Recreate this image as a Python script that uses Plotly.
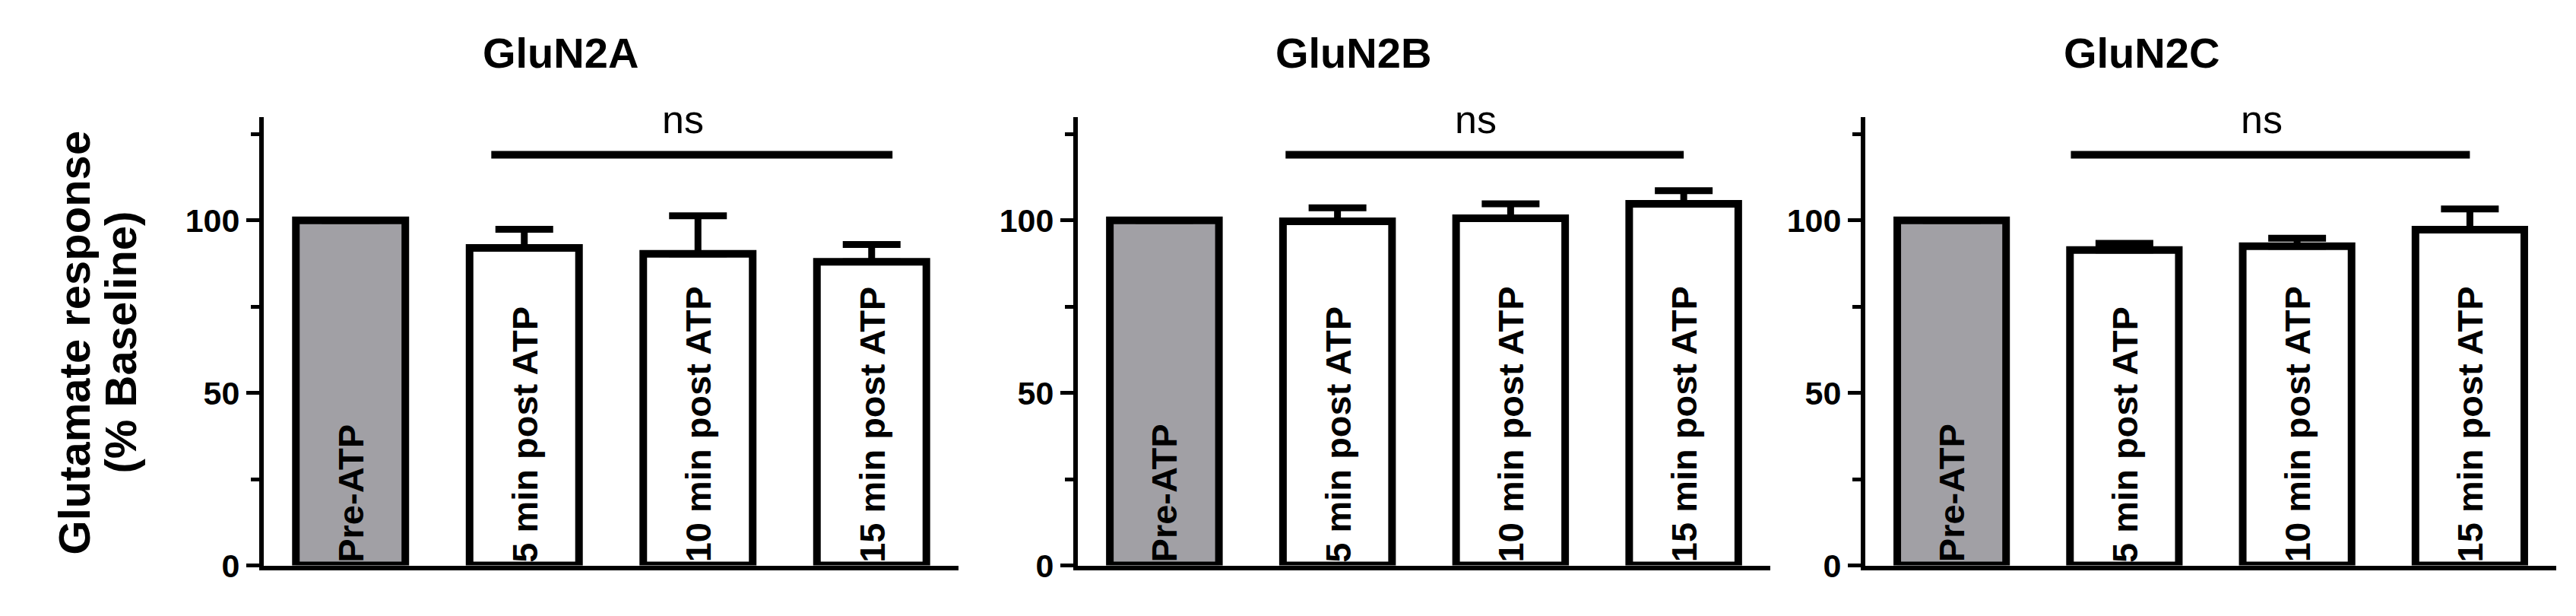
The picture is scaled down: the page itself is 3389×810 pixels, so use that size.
import plotly.graph_objects as go

# conditions on the x axis (also printed inside the bars)
conditions = ["Pre-ATP", "5 min post ATP", "10 min post ATP", "15 min post ATP"]
panel_titles = ["GluN2A", "GluN2B", "GluN2C"]

# % of baseline, mean and upper error
glun2a_mean = [100, 92.0, 90.3, 88.0]
glun2a_err = [0, 5.4, 11.0, 5.0]
glun2b_mean = [100, 99.7, 100.6, 104.8]
glun2b_err = [0, 3.9, 4.2, 3.8]
glun2c_mean = [100, 91.4, 92.5, 97.3]
glun2c_err = [0, 1.9, 2.3, 6.0]

y_ticks = [0, 50, 100]
sig_label = "ns"
y_title = ["Glutamate response", "(% Baseline)"]

FONT = "Liberation Sans, Arial, Helvetica, sans-serif"
W, H = 3389, 810
bar_colors = ["#a1a0a5", "white", "white", "white"]

means = [glun2a_mean, glun2b_mean, glun2c_mean]
errs = [glun2a_err, glun2b_err, glun2c_err]

# pixel extents of each panel's plot area
domains_px = [(339, 1253), (1410, 2321), (2446, 3355)]
# significance line span (in category units) and title x position
sig_spans = [(0.81, 3.12), (0.70, 3.0), (0.69, 3.0)]
title_x = [1.21, 1.09, 1.10]

fig = go.Figure()

for i in range(3):
    xa = "x" if i == 0 else f"x{i + 1}"
    ya = "y" if i == 0 else f"y{i + 1}"
    fig.add_trace(
        go.Bar(
            x=conditions,
            y=means[i],
            xaxis=xa,
            yaxis=ya,
            width=0.63,
            marker=dict(color=bar_colors, line=dict(color="black", width=10)),
            error_y=dict(
                type="data",
                symmetric=False,
                array=errs[i],
                arrayminus=[0] * 4,
                color="black",
                thickness=9,
                width=38,
            ),
            showlegend=False,
            hoverinfo="y",
        )
    )

    x0, x1 = domains_px[i]
    axis_x = dict(
        domain=[x0 / W, x1 / W],
        anchor=ya,
        range=[-0.5, 3.5],
        showline=True,
        linecolor="black",
        linewidth=6,
        showticklabels=False,
        ticks="",
        showgrid=False,
        zeroline=False,
        fixedrange=True,
    )
    axis_y = dict(
        domain=[1 - 758 / H, 1 - 150 / H],
        anchor=xa,
        range=[0, 130],
        tickvals=y_ticks,
        ticks="outside",
        ticklen=17,
        tickwidth=5,
        tickcolor="black",
        minor=dict(dtick=25, ticks="outside", ticklen=11, tickwidth=5, tickcolor="black"),
        showline=True,
        linecolor="black",
        linewidth=6,
        showgrid=False,
        zeroline=False,
        tickfont=dict(family=FONT, size=43, color="black", weight="bold"),
        fixedrange=True,
    )
    fig.layout[("xaxis" if i == 0 else f"xaxis{i + 1}")] = axis_x
    fig.layout[("yaxis" if i == 0 else f"yaxis{i + 1}")] = axis_y

    # condition names written upwards inside the bars
    for c in conditions:
        fig.add_annotation(
            x=c,
            y=0,
            xref=xa,
            yref=ya,
            text=c,
            textangle=-90,
            showarrow=False,
            xanchor="center",
            yanchor="bottom",
            yshift=2,
            font=dict(family=FONT, size=47, color="black", weight="bold"),
        )

    s0, s1 = sig_spans[i]
    fig.add_shape(
        type="line",
        xref=xa,
        yref=ya,
        x0=s0,
        x1=s1,
        y0=119,
        y1=119,
        line=dict(color="black", width=10),
    )
    fig.add_annotation(
        x=(s0 + s1) / 2 - 0.05,
        y=1 - 154 / H,
        xref=xa,
        yref="paper",
        text=sig_label,
        showarrow=False,
        xanchor="center",
        yanchor="middle",
        font=dict(family=FONT, size=52, color="black"),
    )
    fig.add_annotation(
        x=title_x[i],
        y=1 - 63 / H,
        xref=xa,
        yref="paper",
        text=panel_titles[i],
        showarrow=False,
        xanchor="center",
        yanchor="middle",
        font=dict(family=FONT, size=56, color="black", weight="bold"),
    )

# shared y-axis title, one annotation per line
for line_text, x_px in zip(y_title, [89, 150]):
    fig.add_annotation(
        x=x_px / W,
        y=1 - 456 / H,
        xref="paper",
        yref="paper",
        text=line_text,
        textangle=-90,
        showarrow=False,
        xanchor="center",
        yanchor="middle",
        font=dict(family=FONT, size=58, color="black", weight="bold"),
    )

fig.update_layout(
    width=W,
    height=H,
    margin=dict(l=0, r=0, t=0, b=0),
    paper_bgcolor="white",
    plot_bgcolor="white",
)

fig.write_html("out.html")
